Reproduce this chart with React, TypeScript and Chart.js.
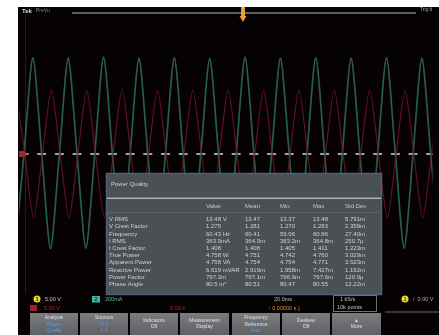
import React, { useEffect, useRef } from "react";
import { Chart, registerables } from "chart.js";
Chart.register(...registerables);

// Channel 1 (voltage) samples at peaks and zero crossings, time in ms (20 ms/div)
const ch1TimesMs = [-1.85, 2.42, 6.7, 10.98, 15.25, 19.53, 23.81, 28.08, 32.36, 36.63, 40.91, 45.19, 49.46, 53.74, 58.02, 62.29, 66.57, 70.84, 75.12, 79.4, 83.67, 87.95, 92.23, 96.5, 100.78, 105.05, 109.33, 113.61, 117.88, 122.16, 126.44, 130.71, 134.99, 139.26, 143.54, 147.82, 152.09, 156.37, 160.65, 164.92, 169.2, 173.47, 177.75, 182.03, 186.3, 190.58, 194.86, 199.13, 203.41];
const ch1Volts = [-19.0, 0, 19.4, 0, -19.1, 0, 19.3, 0, -19.0, 0, 19.5, 0, -19.2, 0, 19.3, 0, -19.0, 0, 19.4, 0, -19.1, 0, 19.2, 0, -19.0, 0, 19.5, 0, -19.1, 0, 19.3, 0, -19.2, 0, 19.4, 0, -19.0, 0, 19.3, 0, -19.1, 0, 19.4, 0, -19.0, 0, 19.3, 0, -19.1];

// Channel 2 (current) samples, mA (200 mA/div)
const ch2TimesMs = [-1.45, 2.82, 7.1, 11.38, 15.65, 19.93, 24.21, 28.48, 32.76, 37.03, 41.31, 45.59, 49.86, 54.14, 58.42, 62.69, 66.97, 71.24, 75.52, 79.8, 84.07, 88.35, 92.63, 96.9, 101.18, 105.45, 109.73, 114.01, 118.28, 122.56, 126.84, 131.11, 135.39, 139.66, 143.94, 148.22, 152.49, 156.77, 161.05, 165.32, 169.6, 173.87, 178.15, 182.43, 186.7, 190.98, 195.26, 199.53, 203.81];
const ch2MilliAmps = [515, 0, -515, 0, 518, 0, -512, 0, 515, 0, -515, 0, 520, 0, -514, 0, 516, 0, -515, 0, 515, 0, -513, 0, 518, 0, -515, 0, 515, 0, -516, 0, 517, 0, -514, 0, 515, 0, -515, 0, 519, 0, -515, 0, 514, 0, -515, 0, 516];

// Measurement table
const tableTitle = "Power Quality";
const tableColumns = ["Value", "Mean", "Min", "Max", "Std Dev"];
const tableRows = ["V RMS", "V Crest Factor", "Frequency", "I RMS", "I Crest Factor", "True Power", "Apparent Power", "Reactive Power", "Power Factor", "Phase Angle"];
const tableValues = [
  ["13.48 V", "13.47", "13.37", "13.48", "5.791m"],
  ["1.275", "1.281", "1.270", "1.283", "2.359m"],
  ["60.43 Hz", "60.41", "59.96", "60.96", "27.40m"],
  ["363.9mA", "364.0m", "363.2m", "364.8m", "250.7µ"],
  ["1.408", "1.408", "1.405", "1.411", "1.223m"],
  ["4.758 W", "4.751", "4.742", "4.760", "3.029m"],
  ["4.758 VA", "4.754", "4.754", "4.771", "3.523m"],
  ["6.619 mVAR", "2.919m", "1.958m", "7.427m", "1.192m"],
  ["797.3m", "797.1m", "796.9m", "797.6m", "120.9µ"],
  ["80.5 m°", "80.51", "80.47", "80.55", "12.22m"],
];

// Bottom menu buttons: [white lines, blue lines]
const menuButtons: [string[], string[]][] = [
  [["Analysis"], ["Power", "Quality"]],
  [["Sources"], ["V: 1", "I: 2"]],
  [["Indicators", "Off"], []],
  [["Measurement", "Display"], []],
  [["Frequency", "Reference"], ["Auto"]],
  [["Deskew", "Off"], []],
  [["▲", "More"], []],
];

const FONT = '"Liberation Sans", Arial, sans-serif';

function drawScreen(chart: any) {
  const ctx: CanvasRenderingContext2D = chart.ctx;
  ctx.save();
  ctx.fillStyle = "#ffffff";
  ctx.fillRect(0, 0, 439, 335);
  ctx.fillStyle = "#060103";
  ctx.fillRect(18, 7, 421, 328);
  ctx.fillStyle = "rgba(90,90,90,0.35)";
  ctx.fillRect(25, 15, 1, 278);
  ctx.restore();
}

function drawOverlay(chart: any) {
  const ctx: CanvasRenderingContext2D = chart.ctx;
  ctx.save();
  ctx.textBaseline = "middle";
  // header
  ctx.font = `bold 6px ${FONT}`;
  ctx.fillStyle = "#d8d8d8";
  ctx.fillText("Tek", 22, 11);
  ctx.font = `5px ${FONT}`;
  ctx.fillStyle = "#8a8a8a";
  ctx.fillText("PreVu", 36, 11);
  ctx.fillStyle = "#5e5e60";
  ctx.fillRect(72, 12, 344, 2);
  ctx.fillStyle = "#a0a0a0";
  ctx.fillText("Trig'd", 420, 10);
  // trigger marker
  ctx.fillStyle = "#e8a030";
  ctx.fillRect(241, 7, 4, 10);
  ctx.beginPath();
  ctx.moveTo(239.5, 16);
  ctx.lineTo(246.5, 16);
  ctx.lineTo(243, 22);
  ctx.closePath();
  ctx.fill();
  // ch2 ground marker
  const y0 = chart.scales.y.getPixelForValue(0);
  ctx.fillStyle = "#a02830";
  ctx.fillRect(19, y0 - 3, 5, 6);
  ctx.beginPath();
  ctx.moveTo(24, y0 - 3);
  ctx.lineTo(27, y0);
  ctx.lineTo(24, y0 + 3);
  ctx.fill();

  // measurement table
  const tx = 106, ty = 173, tw = 276, th = 122;
  ctx.fillStyle = "#4a5053";
  ctx.fillRect(tx, ty, tw, th);
  ctx.strokeStyle = "#4f607f";
  ctx.lineWidth = 1.5;
  ctx.strokeRect(tx + 0.5, ty + 0.5, tw - 1, th - 1);
  ctx.font = `6px ${FONT}`;
  ctx.fillStyle = "#cfcfcf";
  ctx.fillText(tableTitle, 111, 184);
  ctx.fillStyle = "#b0b2b4";
  ctx.fillRect(tx + 1, 197.5, tw - 2, 1.5);
  ctx.fillStyle = "#5c6266";
  ctx.fillRect(tx + 1, 212, tw - 2, 1);
  const colX = [206, 245, 280, 313, 345];
  ctx.fillStyle = "#c8c8c8";
  tableColumns.forEach((c, i) => ctx.fillText(c, colX[i], 206));
  tableRows.forEach((r, i) => {
    const yy = 219.5 + i * 7.2;
    ctx.fillStyle = "#d0d0d0";
    ctx.fillText(r, 109, yy);
    tableValues[i].forEach((v, j) => ctx.fillText(v, colX[j], yy));
  });

  // bottom status rows
  ctx.fillStyle = "#e6e020";
  ctx.beginPath();
  ctx.arc(37, 299, 3.5, 0, Math.PI * 2);
  ctx.fill();
  ctx.fillStyle = "#000";
  ctx.font = `bold 5px ${FONT}`;
  ctx.fillText("1", 35.7, 299.3);
  ctx.font = `5.5px ${FONT}`;
  ctx.fillStyle = "#c8c8c8";
  ctx.fillText("5.00 V", 45, 299);
  ctx.fillStyle = "#30b8a0";
  ctx.fillRect(92, 296, 8, 6.5);
  ctx.fillStyle = "#000";
  ctx.fillText("2", 94.5, 299.3);
  ctx.fillStyle = "#50c8a0";
  ctx.fillText("200mA", 105, 299);
  ctx.fillStyle = "#a02028";
  ctx.fillRect(30, 305, 7, 6);
  ctx.fillStyle = "#b03038";
  ctx.fillText("5.00 V", 44, 308);
  ctx.fillText("0.00 s", 170, 308);
  ctx.fillStyle = "#c0c0c0";
  ctx.fillText("20.0ms", 274, 299);
  ctx.fillStyle = "#e09030";
  ctx.fillText("↑ 0.00000 s )", 268, 308);
  ctx.strokeStyle = "#707070";
  ctx.lineWidth = 1;
  ctx.strokeRect(333.5, 295.5, 43, 16);
  ctx.fillStyle = "#c0c0c0";
  ctx.fillText("1 kS/s", 340, 299.5);
  ctx.fillText("10k points", 337, 307.5);
  ctx.fillStyle = "#e6e020";
  ctx.beginPath();
  ctx.arc(405, 299, 3.5, 0, Math.PI * 2);
  ctx.fill();
  ctx.fillStyle = "#000";
  ctx.fillText("1", 403.6, 299.3);
  ctx.fillStyle = "#b0b0b0";
  ctx.fillText("/  0.00 V", 413, 299);
  ctx.fillStyle = "#6a6a6a";
  ctx.fillRect(385, 311.5, 54, 1);

  // menu buttons
  const btnX = [30, 80, 130, 180, 232, 282, 332];
  const btnW = [48, 48, 48, 49, 48, 48, 49];
  menuButtons.forEach(([white, blue], i) => {
    const x = btnX[i], w = btnW[i];
    const g = ctx.createLinearGradient(0, 313, 0, 335);
    g.addColorStop(0, "#7a7c80");
    g.addColorStop(1, "#5e6064");
    ctx.fillStyle = g;
    ctx.fillRect(x, 313, w, 22);
    ctx.textAlign = "center";
    ctx.font = `5px ${FONT}`;
    const lines = [...white.map((t) => [t, "#e0e0e0"]), ...blue.map((t) => [t, "#4a9cff"])];
    const n = lines.length;
    const startY = n === 3 ? 318 : 320.5;
    lines.forEach(([t, col], k) => {
      ctx.fillStyle = col;
      ctx.fillText(t, x + w / 2, startY + k * 6.5);
    });
    ctx.textAlign = "left";
  });
  ctx.restore();
}

export default function App() {
  const ref = useRef<HTMLCanvasElement>(null);
  useEffect(() => {
    document.body.style.margin = "0";
    const ch1 = ch1TimesMs.map((t, i) => ({ x: t, y: ch1Volts[i] }));
    const ch2 = ch2TimesMs.map((t, i) => ({ x: t, y: ch2MilliAmps[i] }));
    const zeroMarks = ch1TimesMs.filter((t, i) => ch1Volts[i] === 0).map((t) => ({ x: t, y: 0 }));
    const chart = new Chart(ref.current!, {
      type: "line",
      data: {
        datasets: [
          {
            data: ch2,
            yAxisID: "y2",
            borderColor: "rgba(115,22,34,0.85)",
            borderWidth: 1.2,
            pointRadius: 0,
            tension: 0.25,
          },
          {
            data: ch1,
            yAxisID: "y",
            borderColor: "rgba(35,105,75,0.75)",
            borderWidth: 1.8,
            pointRadius: 0,
            tension: 0.25,
          },
          {
            data: ch1,
            yAxisID: "y",
            borderColor: "rgba(170,200,185,0.5)",
            borderWidth: 0.7,
            pointRadius: 0,
            tension: 0.25,
          },
          {
            type: "scatter",
            data: zeroMarks,
            yAxisID: "y",
            pointStyle: "line",
            pointRadius: 4.5,
            borderColor: "rgba(175,200,190,0.85)",
            borderWidth: 2,
            showLine: false,
          } as any,
        ],
      },
      options: {
        animation: false,
        responsive: false,
        devicePixelRatio: 1,
        layout: { padding: { left: 19, top: 15, right: 2, bottom: 42 } },
        plugins: { legend: { display: false }, tooltip: { enabled: false } },
        scales: {
          x: { type: "linear", min: 0, max: 200, display: false },
          y: { min: -28, max: 28, display: false },
          y2: { min: -1120, max: 1120, display: false },
        },
      },
      plugins: [
        { id: "screen", beforeDraw: drawScreen },
        { id: "overlay", afterDraw: drawOverlay },
      ],
    });
    return () => chart.destroy();
  }, []);
  return (
    <div style={{ position: "absolute", left: 0, top: 0, width: 439, height: 335 }}>
      <canvas ref={ref} width={439} height={335} style={{ display: "block", width: 439, height: 335 }} />
    </div>
  );
}
